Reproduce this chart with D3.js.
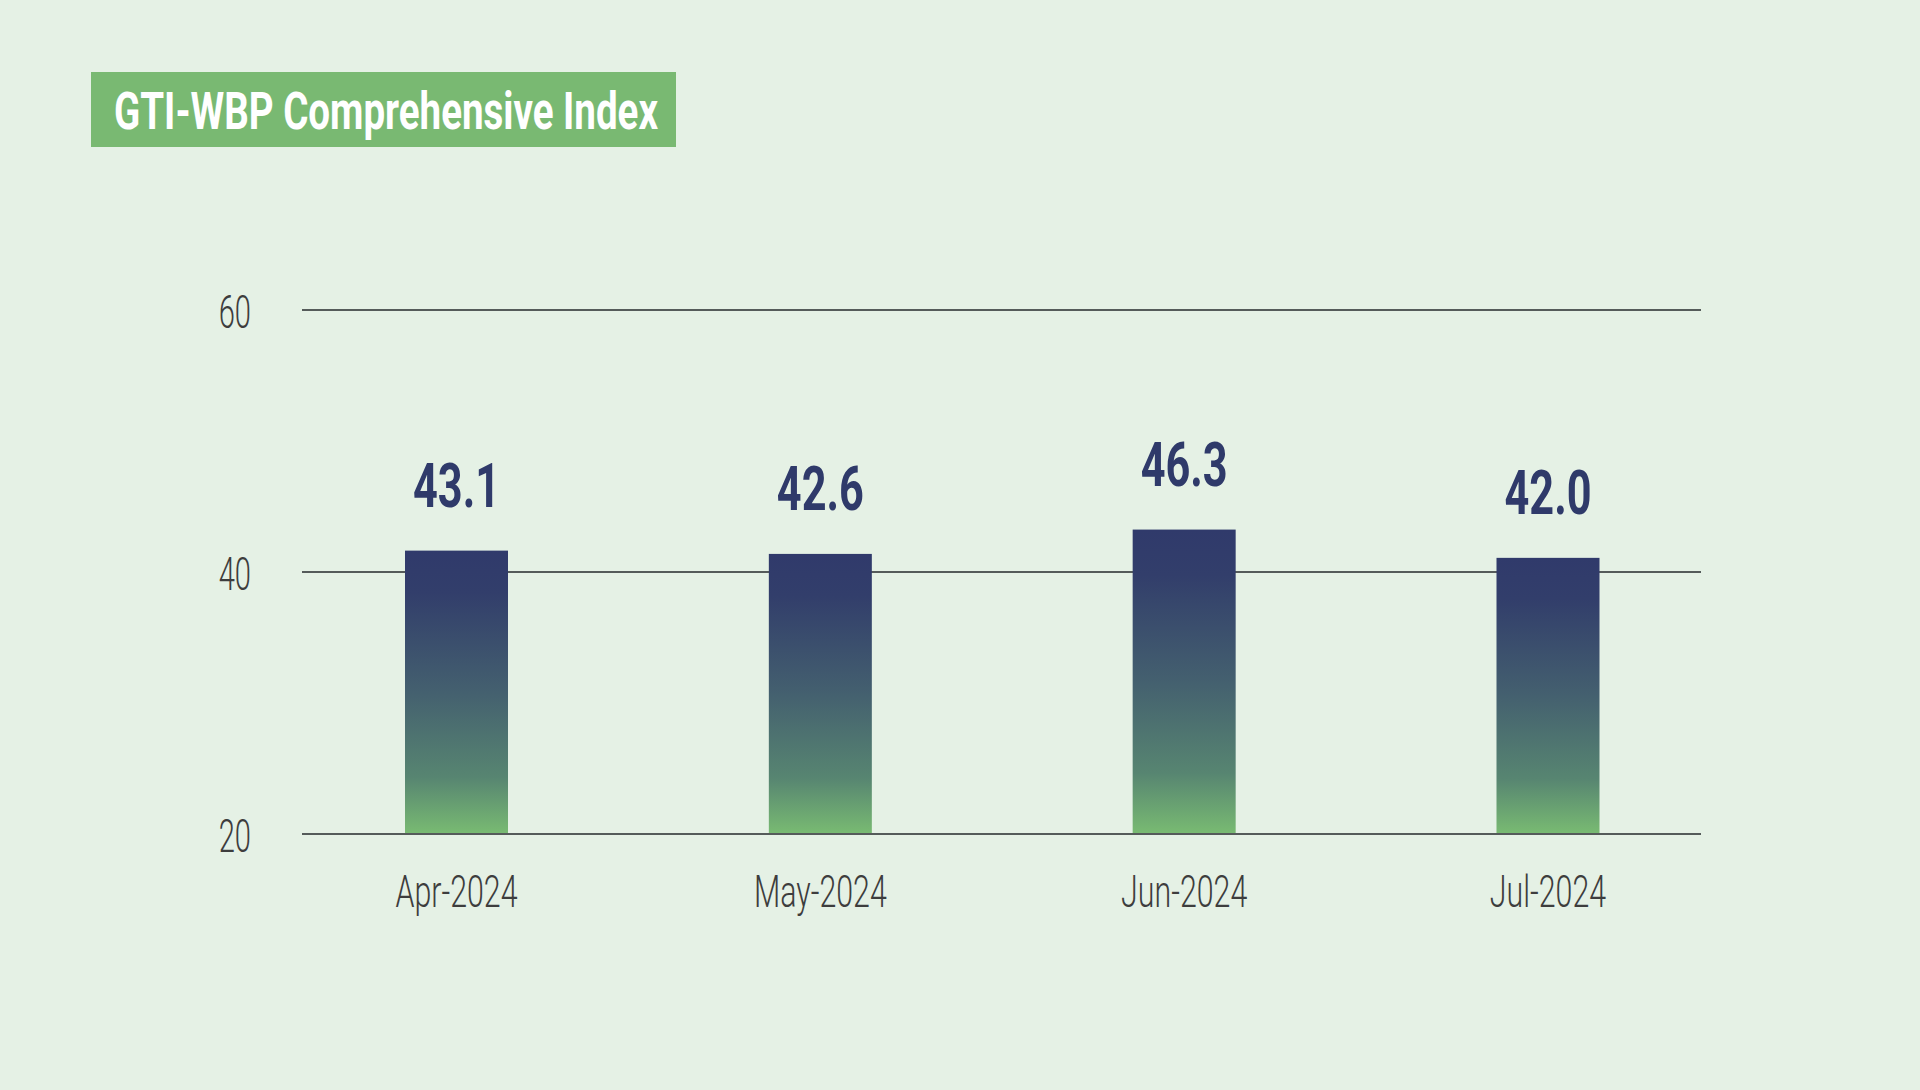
<!DOCTYPE html>
<html><head><meta charset="utf-8">
<script src="https://cdn.jsdelivr.net/npm/d3@7"></script>
<style>
html,body{margin:0;padding:0;background:#e5f1e5;}
svg{display:block;}
</style></head>
<body>
<svg id="chart" width="1920" height="1090"></svg>
<script>
const title = "GTI-WBP Comprehensive Index";
const categories = ["Apr-2024", "May-2024", "Jun-2024", "Jul-2024"];
const values = [43.1, 42.6, 46.3, 42.0];
const valueLabels = ["43.1", "42.6", "46.3", "42.0"];
const yTicks = [20, 40, 60];

const svg = d3.select("#chart");
const W = 1920, H = 1090;
svg.append("rect").attr("width", W).attr("height", H).attr("fill", "#e5f1e5");

const FONT = "Roboto, 'Noto Sans', sans-serif";
function ctext(g, x, y, txt, opts) {
  return g.append("text")
    .attr("transform", `translate(${x},${y}) scale(${opts.sx},1)`)
    .attr("text-anchor", opts.anchor || "middle")
    .attr("font-family", FONT)
    .attr("font-size", opts.size)
    .attr("font-weight", opts.weight)
    .attr("fill", opts.fill)
    .text(txt);
}

// Title box
svg.append("rect").attr("x", 91).attr("y", 72).attr("width", 585).attr("height", 75).attr("fill", "#79b972");
ctext(svg, 386, 129, title, {sx: 0.755, size: 51, weight: 700, fill: "#ffffff"});

// scales
const x = d3.scalePoint().domain(categories).range([456.5, 1548]);
const yAxis = d3.scaleLinear().domain([20, 60]).range([834, 310]);
const yBar = d3.scaleLinear().domain([0, 80]).range([834, 308]);
const barW = 103;

// gradient
const defs = svg.append("defs");
const grad = defs.append("linearGradient").attr("id", "barGrad")
  .attr("x1", 0).attr("y1", 0).attr("x2", 0).attr("y2", 1);
[[0, "#303a6b"], [0.15, "#323e6b"], [0.5, "#44606f"], [0.8, "#578571"], [1, "#79bb72"]]
  .forEach(([o, c]) => grad.append("stop").attr("offset", o).attr("stop-color", c));

// gridlines + y tick labels
const grid = svg.append("g");
yTicks.forEach(t => {
  grid.append("line").attr("x1", 302).attr("x2", 1701)
    .attr("y1", yAxis(t)).attr("y2", yAxis(t))
    .attr("stroke", "#555b5a").attr("stroke-width", 2);
  ctext(grid, 251, yAxis(t) + 18, String(t), {sx: 0.62, size: 47, weight: 300, fill: "#3d3d3d", anchor: "end"});
});

// bars
svg.append("g").selectAll("rect").data(values).join("rect")
  .attr("x", (d, i) => x(categories[i]) - barW / 2)
  .attr("width", barW)
  .attr("y", d => yBar(d))
  .attr("height", d => yBar(0) - yBar(d))
  .attr("fill", "url(#barGrad)");

svg.append("line").attr("x1", 302).attr("x2", 1701)
  .attr("y1", yAxis(20)).attr("y2", yAxis(20))
  .attr("stroke", "#555b5a").attr("stroke-width", 2);

// value labels
const lab = svg.append("g");
values.forEach((v, i) => {
  ctext(lab, x(categories[i]), yBar(v) - 44, valueLabels[i], {sx: 0.71, size: 61, weight: 700, fill: "#2f3a6a"});
});

// x labels
const xl = svg.append("g");
categories.forEach(c => {
  ctext(xl, x(c), 907, c, {sx: 0.69, size: 44, weight: 300, fill: "#3d3d3d"});
});
</script>
</body></html>
